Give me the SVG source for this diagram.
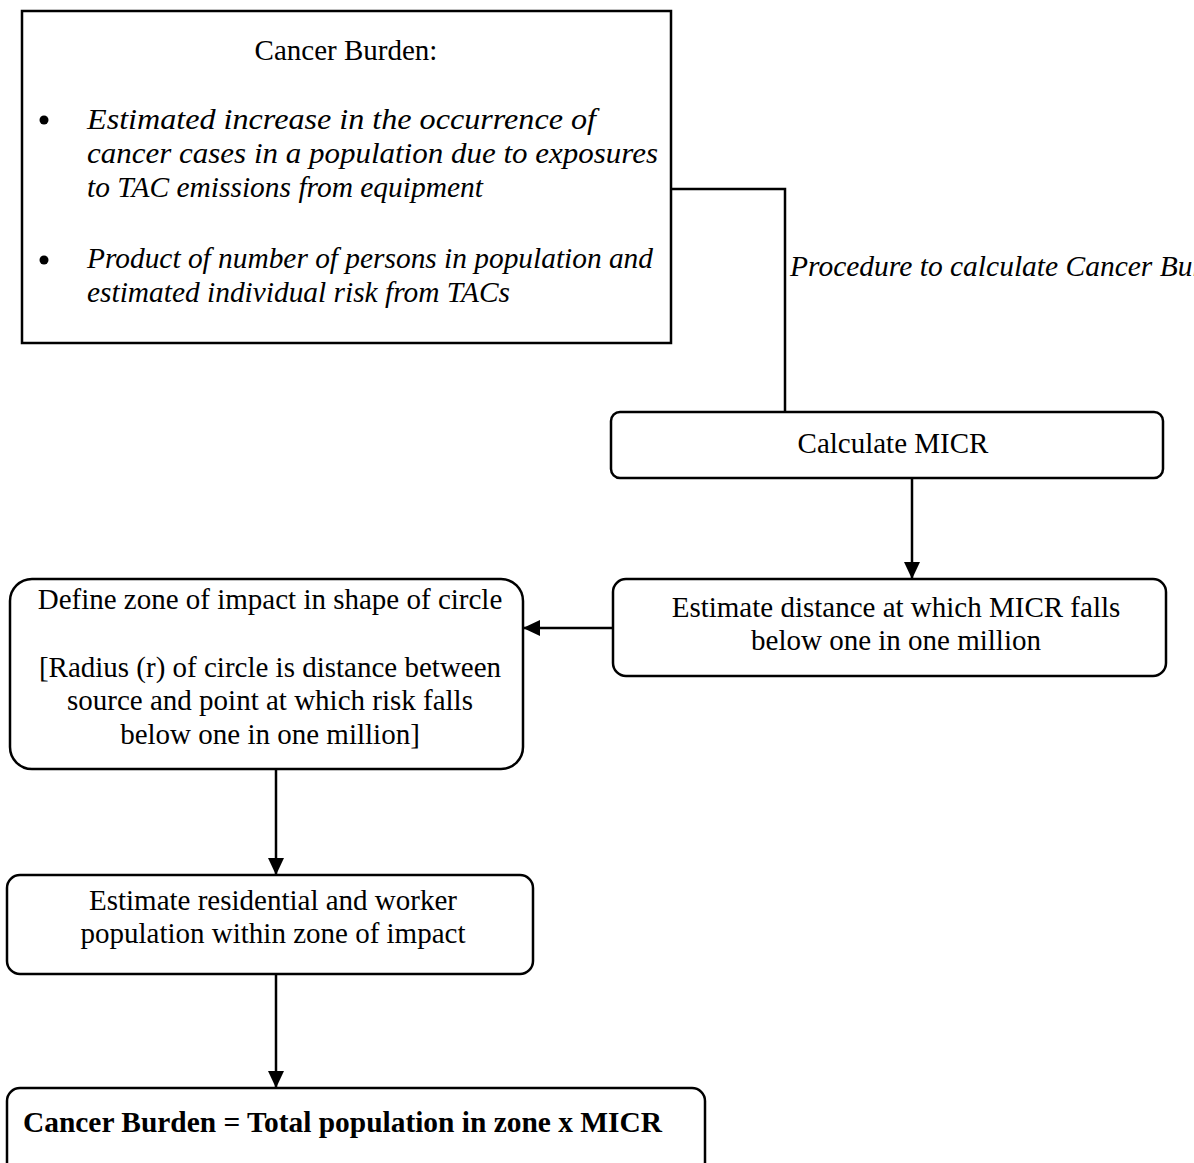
<svg xmlns="http://www.w3.org/2000/svg" width="1194" height="1163" viewBox="0 0 1194 1163">
  <style>
    .box { fill: #fff; stroke: #000; stroke-width: 2.5; }
    .txt { font-family: "Liberation Serif", "Times New Roman", serif; font-size: 29px; fill: #000; }
    .it { font-family: "Liberation Serif", "Times New Roman", serif; font-size: 30px; font-style: italic; fill: #000; }
    .bold { font-weight: bold; }
    .mid { text-anchor: middle; }
    .link { fill: none; stroke: #000; stroke-width: 2.5; }
  </style>
  <defs>
    <marker id="arrow" markerUnits="userSpaceOnUse" markerWidth="17" markerHeight="16" refX="17" refY="8" orient="auto">
      <path d="M0,0 L17,8 L0,16 Z" fill="#000"/>
    </marker>
  </defs>
  <rect width="1194" height="1163" fill="#fff"/>

  <!-- connectors -->
  <g id="connectors">
    <path class="link" d="M671,189 H785 V412"/>
    <path class="link" d="M912,478 V579" marker-end="url(#arrow)"/>
    <path class="link" d="M613,628 H523" marker-end="url(#arrow)"/>
    <path class="link" d="M276,769 V875" marker-end="url(#arrow)"/>
    <path class="link" d="M276,974 V1088" marker-end="url(#arrow)"/>
  </g>

  <!-- definition box -->
  <g id="definition">
    <rect class="box" x="22" y="11" width="649" height="332"/>
    <text class="txt mid" x="346" y="60">Cancer Burden:</text>
    <circle cx="44" cy="120" r="4.5" fill="#000"/>
    <text class="it" x="87" y="129" textLength="509" lengthAdjust="spacingAndGlyphs">Estimated increase in the occurrence of</text>
    <text class="it" x="87" y="163" textLength="571" lengthAdjust="spacingAndGlyphs">cancer cases in a population due to exposures</text>
    <text class="it" x="87" y="197" textLength="396" lengthAdjust="spacingAndGlyphs">to TAC emissions from equipment</text>
    <circle cx="44" cy="260" r="4.5" fill="#000"/>
    <text class="it" x="87" y="268" textLength="566" lengthAdjust="spacingAndGlyphs">Product of number of persons in population and</text>
    <text class="it" x="87" y="302" textLength="423" lengthAdjust="spacingAndGlyphs">estimated individual risk from TACs</text>
  </g>

  <g id="procedure-label">
    <text class="it" x="790" y="276" style="font-size:29.5px">Procedure to calculate Cancer Burden</text>
  </g>

  <g id="calc-micr">
    <rect class="box" x="611" y="412" width="552" height="66" rx="9"/>
    <text class="txt mid" x="893" y="453">Calculate MICR</text>
  </g>

  <g id="estimate-distance">
    <rect class="box" x="613" y="579" width="553" height="97" rx="13"/>
    <text class="txt mid" x="896" y="617">Estimate distance at which MICR falls</text>
    <text class="txt mid" x="896" y="650">below one in one million</text>
  </g>

  <g id="define-zone">
    <rect class="box" x="10" y="579" width="513" height="190" rx="22"/>
    <text class="txt mid" x="270" y="609">Define zone of impact in shape of circle</text>
    <text class="txt mid" x="270" y="677">[Radius (r) of circle is distance between</text>
    <text class="txt mid" x="270" y="710">source and point at which risk falls</text>
    <text class="txt mid" x="270" y="744">below one in one million]</text>
  </g>

  <g id="estimate-population">
    <rect class="box" x="7" y="875" width="526" height="99" rx="13"/>
    <text class="txt mid" x="273" y="910">Estimate residential and worker</text>
    <text class="txt mid" x="273" y="943">population within zone of impact</text>
  </g>

  <g id="cancer-burden">
    <rect class="box" x="7" y="1088" width="698" height="110" rx="13"/>
    <text class="txt bold" x="23" y="1132" textLength="639" lengthAdjust="spacingAndGlyphs">Cancer Burden = Total population in zone x MICR</text>
  </g>
</svg>
